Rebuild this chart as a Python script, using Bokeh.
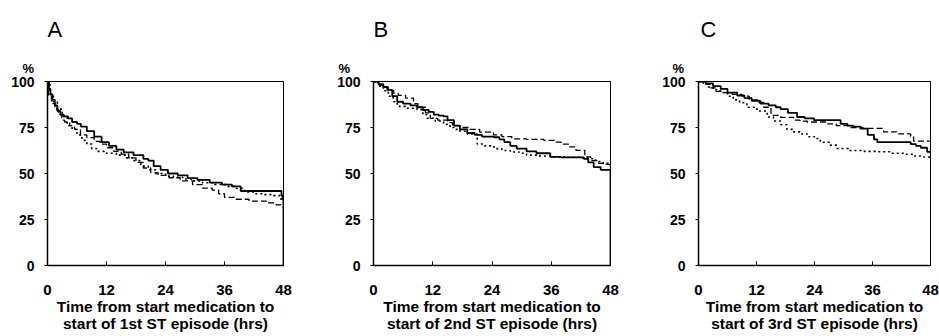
from bokeh.plotting import figure
from bokeh.layouts import row
from bokeh.models import Range1d, Title, FixedTicker
from bokeh.embed import file_html
from bokeh.resources import INLINE

# ---------------- data ----------------
x_ticks = [0, 12, 24, 36, 48]
y_ticks = [0, 25, 50, 75, 100]
panel_letters = ["A", "B", "C"]
x_titles = [
    "Time from start medication to\nstart of 1st ST episode (hrs)",
    "Time from start medication to\nstart of 2nd ST episode (hrs)",
    "Time from start medication to\nstart of 3rd ST episode (hrs)",
]

# Panel A
a_solid_t = [0, 0.3, 0.6, 1.0, 1.5, 2.0, 2.6, 3.3, 4.2, 5.0, 6.0, 6.8, 8.0, 9.5, 11.0, 12.5, 14.0, 15.5, 17.5, 19.5, 20.5, 21.6, 23.0, 24.5, 26.5, 28.5, 30.5, 33.0, 35.5, 37.5, 39.3, 47.6, 47.8, 48]
a_solid_v = [100, 96, 93, 90, 87, 84, 82, 81, 80, 78, 77, 75.5, 73, 70, 67, 65, 63, 61.5, 60, 58, 57, 54, 52, 50, 49, 47.5, 46.5, 45, 44, 43, 40.5, 38, 36, 0]
a_dash_t = [0, 0.2, 0.8, 1.5, 2.2, 2.9, 3.5, 4.5, 5.5, 6.7, 8.0, 9.5, 10.7, 12.0, 13.5, 15.0, 16.5, 18.0, 19.5, 21.0, 22.5, 24.7, 27.0, 29.5, 31.5, 33.5, 34.8, 36.0, 38.2, 41.0, 44.5, 46.5, 47.5, 48]
a_dash_v = [100, 92, 88, 85, 82, 79, 78, 76, 74, 71, 69.5, 67.5, 66, 64, 62, 60.5, 58.5, 56, 53, 50.5, 49, 47.7, 46, 44, 42, 41, 39, 37, 36, 35, 34, 33, 32, 31]
a_dot_t = [0, 0.5, 1.2, 2.0, 3.0, 4.0, 5.0, 6.0, 7.0, 8.0, 9.0, 10.0, 12.0, 14.0, 16.0, 17.5, 19.0, 20.5, 22.0, 24.0, 25.6, 27.5, 29.5, 31.5, 34.0, 36.5, 38.0, 40.0, 42.0, 44.0, 46.0, 47.5, 48]
a_dot_v = [100, 93, 89, 85, 81, 76, 74, 71, 68, 66, 63.5, 62, 61, 60, 58.5, 57, 54, 52, 50, 48.6, 48, 47, 46, 45, 44, 43, 42, 40, 39, 38.5, 38, 35, 33]

# Panel B
b_solid_t = [0, 1.0, 2.0, 2.8, 3.8, 4.8, 6.0, 7.5, 8.8, 10.0, 11.2, 12.2, 13.2, 14.2, 15.0, 16.3, 17.5, 19.0, 20.5, 22.0, 24.4, 25.5, 26.5, 27.7, 29.0, 31.0, 33.0, 35.8, 38.0, 42.6, 43.5, 44.6, 46.0, 48]
b_solid_v = [100, 98.5, 97, 95.4, 92, 89, 88, 87, 86, 84.5, 83.5, 82, 81.5, 81, 79, 76, 74, 72, 71, 70, 69.7, 68.5, 67, 65, 63.5, 62, 61, 59, 58.8, 58, 56, 53.5, 52, 0]
b_dash_t = [0, 1.0, 2.0, 3.0, 4.1, 5.0, 6.5, 8.1, 9.0, 10.5, 11.5, 13.0, 15.0, 16.0, 17.6, 19.5, 21.5, 24.3, 26.0, 28.0, 31.0, 34.5, 37.0, 38.0, 39.5, 41.0, 42.8, 44.0, 45.6, 47.0, 48]
b_dash_v = [100, 98, 97, 95, 93.5, 92.5, 91, 88, 86, 83, 80, 79, 77.7, 76, 75, 74, 72.5, 71, 70, 68.8, 68.5, 68, 67, 66, 64.5, 62.6, 59, 57, 55.5, 55, 54.5]
b_dot_t = [0, 1.0, 2.0, 3.0, 4.0, 4.8, 6.5, 8.8, 10.0, 10.8, 12.5, 14.2, 15.5, 16.3, 17.5, 19.0, 21.0, 22.5, 24.4, 26.0, 27.7, 29.5, 31.0, 33.5, 36.0, 39.0, 42.0, 43.5, 45.0, 46.5, 48]
b_dot_v = [100, 97.5, 95, 92, 89, 86.5, 85.5, 84.7, 82, 80, 78.5, 76.8, 75, 74, 73, 71.5, 66, 65, 63.5, 62.5, 61.7, 61, 60, 59.5, 59, 58.8, 58.5, 58, 56.5, 55.5, 54]

# Panel C
c_solid_t = [0, 1.5, 3.0, 4.6, 6.0, 8.0, 9.5, 11.0, 12.8, 14.5, 16.0, 17.0, 18.5, 20.4, 22.0, 23.9, 27.0, 29.4, 30.8, 32.0, 33.5, 35.0, 36.3, 37.0, 42.0, 43.9, 45.0, 46.0, 47.3, 48]
c_solid_v = [100, 99, 97.5, 96, 94, 92.4, 91, 89.5, 88, 87, 86, 85, 83, 80.7, 80, 79, 79, 77, 76, 75.5, 74.4, 71, 68.5, 67, 67, 66, 65, 64, 61.8, 61]
c_dash_t = [0, 1.5, 2.5, 3.5, 5.0, 7.0, 9.0, 10.5, 12.4, 13.5, 15.0, 17.0, 19.7, 21.0, 22.5, 26.6, 28.5, 31.4, 34.0, 38.3, 41.0, 43.9, 44.5, 48]
c_dash_v = [100, 98.5, 96.5, 94.6, 94, 93, 92, 90, 88.6, 86, 81.6, 80.5, 79, 78.5, 78, 77, 76, 75, 74.5, 72.6, 71.5, 70.3, 67.6, 67.6]
c_dot_t = [0, 1.0, 2.0, 3.0, 4.5, 6.0, 7.2, 8.5, 10.0, 11.5, 12.5, 14.2, 15.5, 17.0, 18.3, 19.5, 21.0, 22.5, 24.0, 25.2, 27.3, 28.7, 31.0, 34.0, 37.0, 40.0, 43.0, 44.5, 46.6, 48]
c_dot_v = [100, 98.5, 97, 95.5, 94, 92, 90, 88.5, 86, 85, 84, 80.7, 78.5, 76.5, 74, 72.6, 71.5, 70, 69, 67, 65.4, 63.6, 62.5, 62, 61.8, 61, 60.5, 59.5, 59, 58.5]

panels = [
    dict(solid=(a_solid_t, a_solid_v), dash=(a_dash_t, a_dash_v), dot=(a_dot_t, a_dot_v),
         left=47, right=30, top=80, bottom=71, letter_off=0, pct_off=-25),
    dict(solid=(b_solid_t, b_solid_v), dash=(b_dash_t, b_dash_v), dot=(b_dot_t, b_dot_v),
         left=60, right=16, top=78, bottom=70, letter_off=0, pct_off=-35),
    dict(solid=(c_solid_t, c_solid_v), dash=(c_dash_t, c_dash_v), dot=(c_dot_t, c_dot_v),
         left=72, right=9, top=81, bottom=70, letter_off=2, pct_off=-26),
]

FONT = "Liberation Sans"
figs = []
for i, pc in enumerate(panels):
    p = figure(width=313, height=336, output_backend="svg", toolbar_location=None,
               x_range=Range1d(0, 48), y_range=Range1d(0, 100),
               min_border_left=pc["left"], min_border_right=pc["right"],
               min_border_top=pc["top"], min_border_bottom=pc["bottom"])
    p.grid.visible = False
    p.outline_line_color = "black"
    p.outline_line_width = 1
    p.background_fill_color = "white"
    p.border_fill_color = "white"

    p.xaxis.ticker = FixedTicker(ticks=x_ticks)
    p.yaxis.ticker = FixedTicker(ticks=y_ticks)
    for ax in (p.xaxis, p.yaxis):
        ax.axis_line_color = "black"
        ax.axis_line_width = 1.5
        ax.major_tick_line_color = "black"
        ax.minor_tick_line_color = None
        ax.major_label_text_font = FONT
        ax.major_label_text_font_style = "bold"
        ax.major_label_text_color = "black"
    p.yaxis.major_label_text_font_size = "14px"
    p.xaxis.major_label_text_font_size = "15px"
    p.xaxis.major_tick_in = 4
    p.xaxis.major_tick_out = 0
    p.xaxis.major_label_standoff = 19
    p.yaxis.major_tick_in = 0
    p.yaxis.major_tick_out = 3
    p.yaxis.major_label_standoff = 10
    p.xaxis.axis_label = x_titles[i]
    p.xaxis.axis_label_text_font = FONT
    p.xaxis.axis_label_text_font_style = "bold"
    p.xaxis.axis_label_text_font_size = "15.5px"
    p.xaxis.axis_label_text_line_height = 1.05
    p.xaxis.axis_label_text_color = "black"
    p.xaxis.axis_label_standoff = 0

    st, sv = pc["solid"]
    p.step(st, sv, mode="after", line_color="black", line_width=1.8)
    dt, dv = pc["dash"]
    p.step(dt, dv, mode="after", line_color="black", line_width=1.3, line_dash="6 3")
    ot, ov = pc["dot"]
    p.step(ot, ov, mode="after", line_color="black", line_width=1.6, line_dash="2 3")

    # "%" sits just above the frame, the panel letter above that
    p.add_layout(Title(text="%", align="left", offset=pc["pct_off"], standoff=12,
                       text_font=FONT, text_font_size="13px", text_font_style="bold",
                       text_color="black"), "above")
    p.add_layout(Title(text=panel_letters[i], align="left", offset=pc["letter_off"],
                       standoff=22, text_font=FONT, text_font_size="22px",
                       text_font_style="normal", text_color="black"), "above")
    figs.append(p)

layout = row(*figs)
open("out.html", "w").write(file_html(layout, INLINE))
